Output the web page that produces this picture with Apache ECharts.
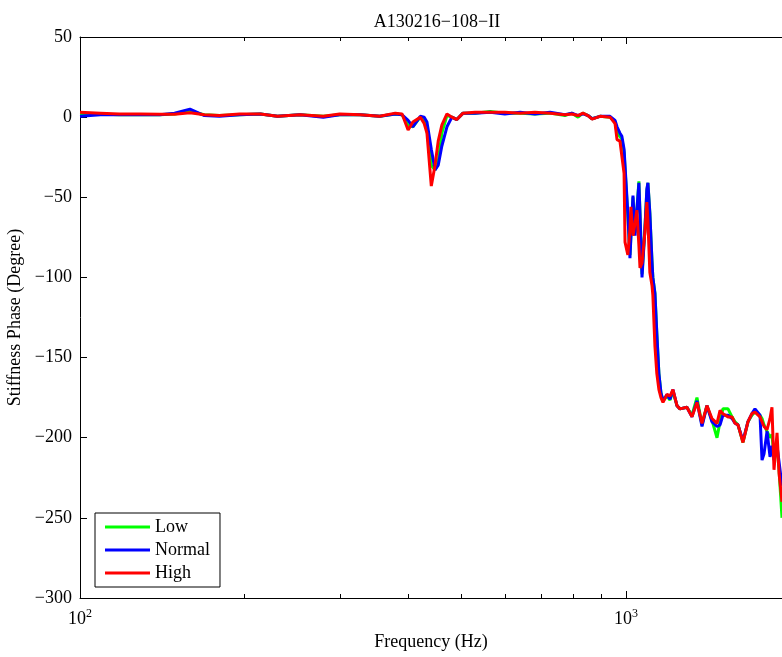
<!DOCTYPE html>
<html>
<head>
<meta charset="utf-8">
<script src="https://cdn.jsdelivr.net/npm/echarts@6/dist/echarts.min.js"></script>
<style>
  html, body { margin: 0; padding: 0; background: #fff; }
  #chart { width: 782px; height: 657px; }
</style>
</head>
<body>
<div id="chart"></div>
<script>
// frequency (Hz) of each sample point
const freq = [
  100, 109, 118, 129, 140, 149, 159, 169, 180, 196,
  214, 230, 253, 279, 299, 326, 354, 378, 389, 399,
  407, 420, 427, 432, 440, 447, 453, 460, 470, 480,
  490, 503, 529, 564, 600, 640, 681, 726, 773, 796,
  817, 834, 852, 867, 896, 935, 955, 963, 975, 983,
  992, 996, 1008, 1017, 1021, 1030, 1039, 1047, 1056, 1061,
  1070, 1083, 1092, 1097, 1106, 1116, 1120, 1130, 1139, 1149,
  1159, 1169, 1189, 1204, 1219, 1240, 1256, 1293, 1321, 1349,
  1378, 1407, 1437, 1468, 1487, 1505, 1538, 1564, 1584, 1604,
  1638, 1673, 1701, 1723, 1760, 1775, 1790, 1813, 1836, 1851,
  1867, 1891, 1907, 1931
];

// stiffness phase (degree) per excitation level
const lowPhase = [
  2, 2, 1.5, 1.5, 1.5, 2, 3.5, 1.5, 1, 1.5,
  2, 0.5, 1.5, 0.5, 1.5, 1.5, 0.5, 2, 1.5, -5,
  -6, 0, -2, -8, -30, -33, -28, -10, 1, 0,
  -1.5, 2.5, 2.5, 3.5, 2.5, 2.5, 2, 2.5, 1, 2.5,
  0, 2.5, 1, -1, 0.5, 0, -3, -10, -12, -14,
  -22, -32, -62, -86, -74, -50, -72, -58, -40, -60,
  -98, -70, -46, -41, -60, -90, -100, -110, -135, -160,
  -172, -177, -174, -176.5, -171, -180, -182, -181, -186, -175,
  -192, -180, -189, -200, -190, -182, -182, -187, -190, -192,
  -203, -190, -186, -184, -186, -188, -192, -196, -200, -198,
  -212, -205, -220, -250
];
const normalPhase = [
  0.5, 1.5, 1.5, 1.5, 1.5, 2.5, 5, 1, 0.5, 1.5,
  2, 0.5, 1.5, 0, 1.5, 1.5, 0.5, 2, 1.5, -2,
  -6, 0.5, 0, -3, -20, -33, -30, -18, -6, 0,
  -1.5, 2.5, 2.5, 3, 2, 3, 2, 3, 1.5, 2.5,
  1, 2, 1, -1, 0.5, 0.5, -2, -6, -10, -12,
  -20, -30, -60, -88, -75, -49, -74, -58, -41, -60,
  -100, -70, -45, -41, -60, -90, -100, -110, -135, -160,
  -172, -177, -173, -176, -170, -180, -182, -181, -187, -177,
  -193, -180, -190, -193, -192, -186, -186, -188, -191, -192,
  -202, -190, -185, -182, -186, -214, -210, -196, -212, -205,
  -214, -205, -215, -230
];
const highPhase = [
  3, 2.5, 2, 2, 1.8, 1.8, 2.8, 1.5, 1, 2,
  2, 0.5, 1.5, 0.5, 2, 1.5, 0.5, 2.5, 2, -8,
  -3, 0, -4, -10, -43, -30, -15, -5, 2, 0,
  -1.5, 2.5, 3, 3, 3, 2.5, 3, 2.5, 1.5, 2,
  1, 2.5, 1, -1.2, 0.5, 0, -4, -14, -15, -16,
  -35, -78, -86, -70, -56, -74, -66, -58, -80, -94,
  -91, -72, -53, -65, -97, -105, -111, -143, -160, -170,
  -175, -178, -173, -174, -170, -180, -182, -181, -187, -178,
  -191, -180, -188, -191, -183, -185, -187, -187, -191, -192,
  -203, -190, -185, -184, -187, -190, -193, -195, -188, -181,
  -220, -197, -222, -240
];

const seriesNames = ['Low', 'Normal', 'High'];
const seriesColors = ['#00ff00', '#0000ff', '#ff0000'];
const seriesValues = [lowPhase, normalPhase, highPhase];

const majorTicks = [100, 1000];
const minorTicks = [200, 300, 400, 500, 600, 700, 800, 900];
const xMin = 100;
const xMax = 1931;

const FONT = 'Liberation Serif';

const chart = echarts.init(document.getElementById('chart'));

// extra axes that only carry tick marks (minor ticks, top border)
function tickAxis(position, values, len, showLine) {
  return {
    type: 'log',
    logBase: 10,
    position: position,
    min: xMin,
    max: xMax,
    axisLine: { show: showLine, onZero: false, lineStyle: { color: '#000', width: 1 } },
    axisTick: {
      show: true,
      inside: true,
      length: len,
      customValues: values,
      lineStyle: { color: '#000', width: 1 }
    },
    axisLabel: { show: false },
    splitLine: { show: false }
  };
}

const option = {
  animation: false,
  backgroundColor: '#fff',
  title: {
    text: 'A130216\u2212108\u2212II',
    left: 432,
    top: 8,
    textAlign: 'center',
    textStyle: { fontFamily: FONT, fontSize: 18, fontWeight: 'normal', color: '#000' }
  },
  grid: { left: 80, top: 37, right: 0, bottom: 59, outerBoundsMode: 'none' },
  legend: {
    orient: 'vertical',
    left: 95,
    top: 513,
    data: seriesNames,
    icon: 'rect',
    itemWidth: 45,
    itemHeight: 3,
    itemGap: 3,
    padding: [4, 10, 4, 10],
    borderColor: '#000',
    borderWidth: 1,
    backgroundColor: '#fff',
    textStyle: { fontFamily: FONT, fontSize: 18, color: '#000', lineHeight: 20 }
  },
  xAxis: [
    {
      type: 'log',
      logBase: 10,
      min: xMin,
      max: xMax,
      position: 'bottom',
      name: 'Frequency (Hz)',
      nameLocation: 'middle',
      nameGap: 30,
      nameTextStyle: { fontFamily: FONT, fontSize: 18, color: '#000' },
      axisLine: { show: true, onZero: false, lineStyle: { color: '#000', width: 1 } },
      axisTick: {
        show: true,
        inside: true,
        length: 7,
        customValues: majorTicks,
        lineStyle: { color: '#000', width: 1 }
      },
      axisLabel: {
        customValues: majorTicks,
        margin: 10,
        formatter: function (v) {
          return '{b|10}{s|' + Math.round(Math.log10(v)) + '}';
        },
        rich: {
          b: { fontFamily: FONT, fontSize: 18, color: '#000' },
          s: { fontFamily: FONT, fontSize: 12, color: '#000', verticalAlign: 'top', padding: [0, 0, 10, 0] }
        }
      },
      splitLine: { show: false }
    },
    tickAxis('bottom', minorTicks, 4, false),
    tickAxis('top', majorTicks, 7, true),
    tickAxis('top', minorTicks, 4, false)
  ],
  yAxis: {
    type: 'value',
    min: -300,
    max: 50,
    interval: 50,
    name: 'Stiffness Phase (Degree)',
    nameLocation: 'middle',
    nameGap: 50,
    nameTextStyle: { fontFamily: FONT, fontSize: 18, color: '#000' },
    axisLine: { show: true, onZero: false, lineStyle: { color: '#000', width: 1 } },
    axisTick: { show: true, inside: true, length: 7, lineStyle: { color: '#000', width: 1 } },
    axisLabel: {
      fontFamily: FONT,
      fontSize: 18,
      color: '#000',
      margin: 8,
      formatter: function (v) { return v < 0 ? '\u2212' + (-v) : String(v); }
    },
    splitLine: { show: false }
  },
  series: seriesNames.map(function (name, k) {
    return {
      name: name,
      type: 'line',
      xAxisIndex: 0,
      showSymbol: false,
      symbol: 'none',
      color: seriesColors[k],
      lineStyle: { width: 3, color: seriesColors[k] },
      data: freq.map(function (f, i) { return [f, seriesValues[k][i]]; })
    };
  })
};

chart.setOption(option);
</script>
</body>
</html>
